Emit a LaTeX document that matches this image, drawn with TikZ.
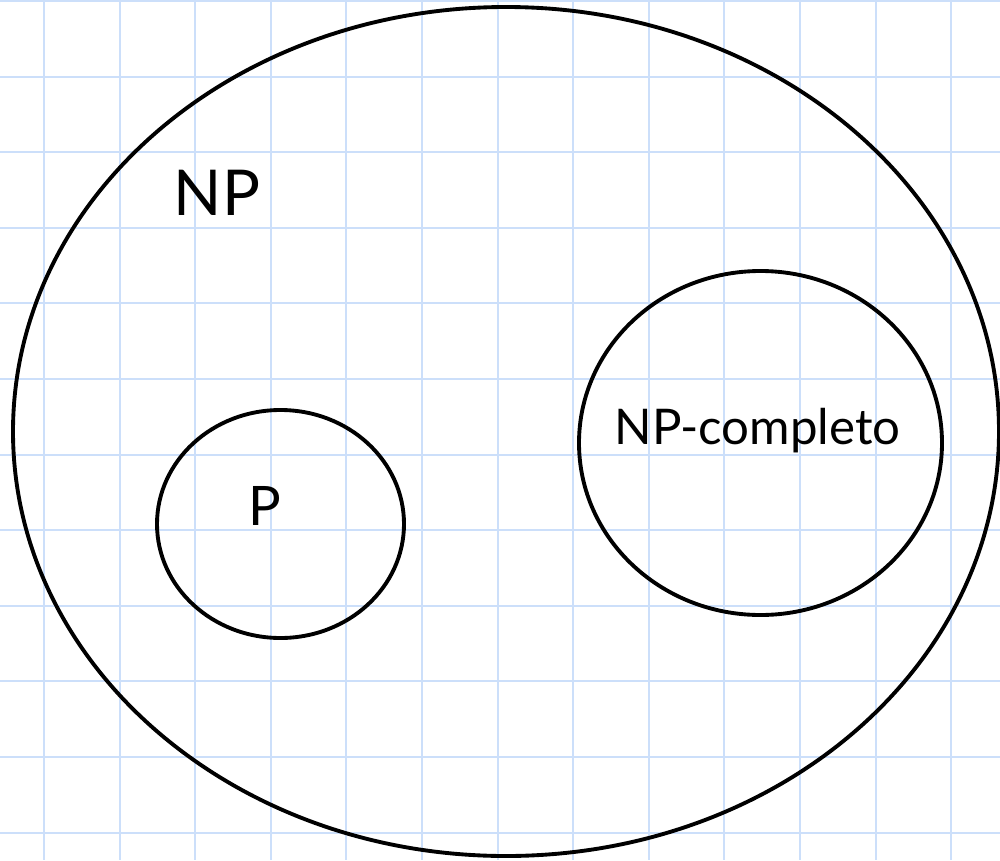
\documentclass[tikz,border=0pt]{standalone}
\usepackage{fontspec}
\setmainfont{Lato}
\usepackage{xcolor}
\usepackage{tikz}
\usetikzlibrary{shapes.geometric}
\definecolor{gridblue}{RGB}{204,223,250}

\begin{document}
\begin{tikzpicture}[
  set/.style={draw,ellipse,line width=2.2pt,inner sep=0pt},
  lab/.style={anchor=base,inner sep=0pt}]
\useasboundingbox (0,0) rectangle (20,-17.2);
\fill[white] (0,0) rectangle (20,-17.2);
% squared paper
\foreach \k in {0,...,12}
  \draw[gridblue,line width=1.1pt] (0.88+1.512*\k,0) -- (0.88+1.512*\k,-17.2);
\foreach \k in {0,...,11}
  \draw[gridblue,line width=1.1pt] (0,-0.02-1.512*\k) -- (20,-0.02-1.512*\k);
% the classes
\node[set,minimum width=19.72cm,minimum height=16.98cm] (np) at (10.12,-8.63) {};
\node[set,minimum width=4.94cm,minimum height=4.56cm] (p) at (5.61,-10.48) {};
\node[set,minimum width=7.26cm,minimum height=6.88cm] (npc) at (15.21,-8.86) {};
\node[lab,font=\fontsize{36}{40}\selectfont] (nplab) at (4.34,-4.3) {NP};
\node[lab,font=\fontsize{31}{36}\selectfont] (plab) at (5.3,-10.5) {P};
\node[lab,font=\fontsize{28}{32}\selectfont] (npclab) at (15.15,-8.88) {NP-completo};
\end{tikzpicture}
\end{document}
